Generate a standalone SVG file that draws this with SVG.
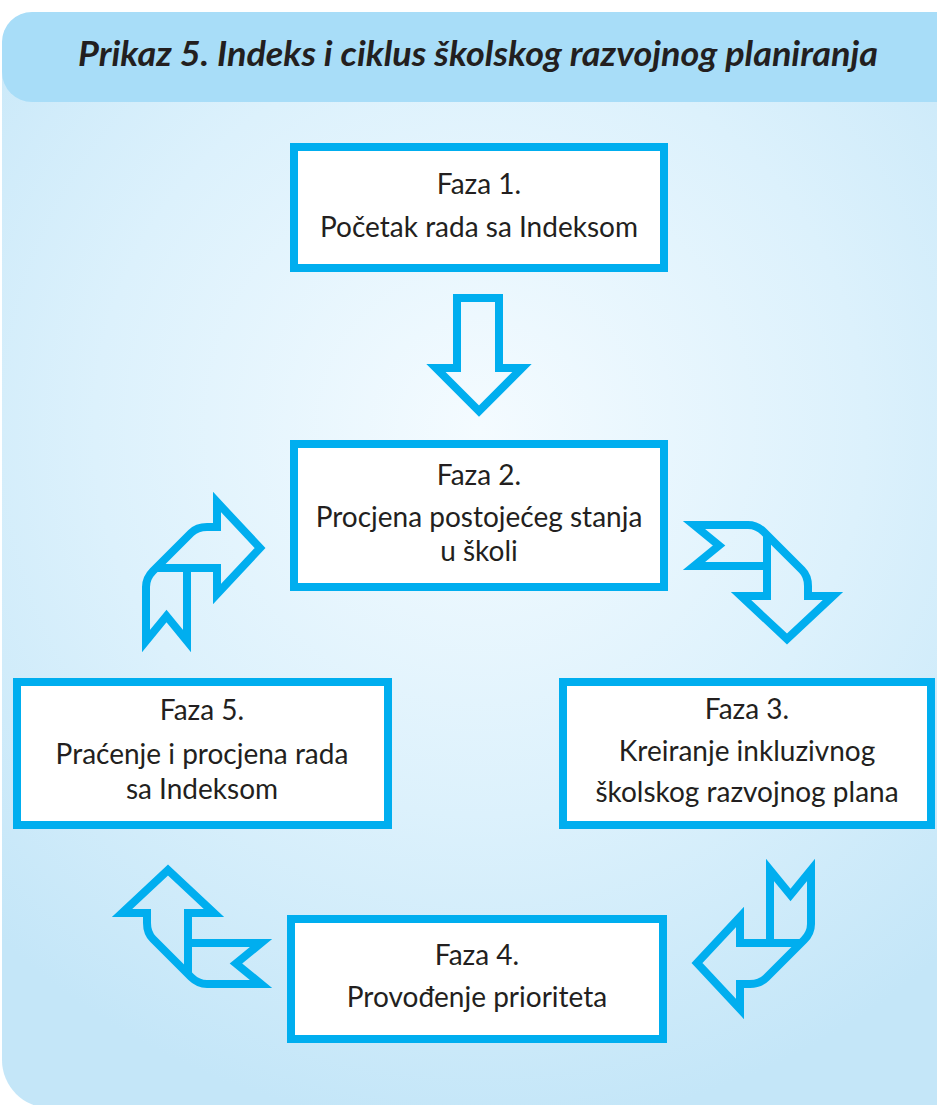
<svg xmlns="http://www.w3.org/2000/svg" width="937" height="1105" viewBox="0 0 937 1105">
  <defs>
    <radialGradient id="panelFill" cx="480" cy="430" r="700" gradientUnits="userSpaceOnUse">
      <stop offset="0" stop-color="#f4fbff"/>
      <stop offset="0.55" stop-color="#dcf1fc"/>
      <stop offset="1" stop-color="#c4e6f8"/>
    </radialGradient>
    <!-- ribbon arrow: tail on the left, bends and points down -->
    <g id="bentArrow">
      <path d="M -70,-57 L -16,-57 Q -7,-57 0,-50 L 38,-12 Q 44,-6 44,4 L 44,14 L 69,14 L 23,57 L -23,14 L 3,14 L 3,-16 L -70,-16 L -45,-36.5 Z"/>
      <path d="M 3,-47 L 3,-16"/>
    </g>
  </defs>
  <style>
    .box { fill: #ffffff; stroke: #00aeef; stroke-width: 8; }
    .arrow { fill: none; stroke: #00aeef; stroke-width: 8; stroke-linejoin: miter; stroke-miterlimit: 10; }
    .label { font-family: Lato, "Open Sans", sans-serif; font-size: 28px; fill: #231f20; text-anchor: middle; }
    .title { font-family: Lato, "Liberation Sans", sans-serif; font-size: 35px; font-weight: bold; font-style: italic; fill: #231f20; text-anchor: middle; }
  </style>

  <!-- background panel and header band -->
  <rect x="2" y="12" width="980" height="1096" rx="48" fill="url(#panelFill)"/>
  <rect x="2" y="12" width="980" height="90" rx="30" fill="#a8ddf8"/>
  <text class="title" x="478" y="66" textLength="800" lengthAdjust="spacingAndGlyphs">Prikaz 5. Indeks i ciklus školskog razvojnog planiranja</text>

  <!-- connectors -->
  <g id="connectors" class="arrow">
    <path id="arrow-1-2" d="M 457,298 L 499,298 L 499,368 L 522,368 L 479,411 L 436,368 L 457,368 Z"/>
    <use id="arrow-2-3" href="#bentArrow" transform="translate(764,582)"/>
    <use id="arrow-3-4" href="#bentArrow" transform="translate(754,940) rotate(90)"/>
    <use id="arrow-4-5" href="#bentArrow" transform="translate(191,927) rotate(180)"/>
    <use id="arrow-5-2" href="#bentArrow" transform="translate(203,571) rotate(-90)"/>
  </g>

  <!-- phases -->
  <g id="faza1">
    <rect class="box" x="294" y="147" width="370" height="121"/>
    <text class="label" x="479" y="194">Faza 1.</text>
    <text class="label" x="479" y="237">Početak rada sa Indeksom</text>
  </g>
  <g id="faza2">
    <rect class="box" x="294" y="444" width="370" height="143"/>
    <text class="label" x="479" y="485">Faza 2.</text>
    <text class="label" x="479" y="527">Procjena postojećeg stanja</text>
    <text class="label" x="479" y="561">u školi</text>
  </g>
  <g id="faza3">
    <rect class="box" x="563" y="682" width="368" height="143"/>
    <text class="label" x="747" y="719">Faza 3.</text>
    <text class="label" x="747" y="761">Kreiranje inkluzivnog</text>
    <text class="label" x="747" y="802">školskog razvojnog plana</text>
  </g>
  <g id="faza4">
    <rect class="box" x="291" y="919" width="372" height="120"/>
    <text class="label" x="477" y="965">Faza 4.</text>
    <text class="label" x="477" y="1007">Provođenje prioriteta</text>
  </g>
  <g id="faza5">
    <rect class="box" x="17" y="682" width="371" height="143"/>
    <text class="label" x="202" y="720">Faza 5.</text>
    <text class="label" x="202" y="764">Praćenje i procjena rada</text>
    <text class="label" x="202" y="799">sa Indeksom</text>
  </g>
</svg>
